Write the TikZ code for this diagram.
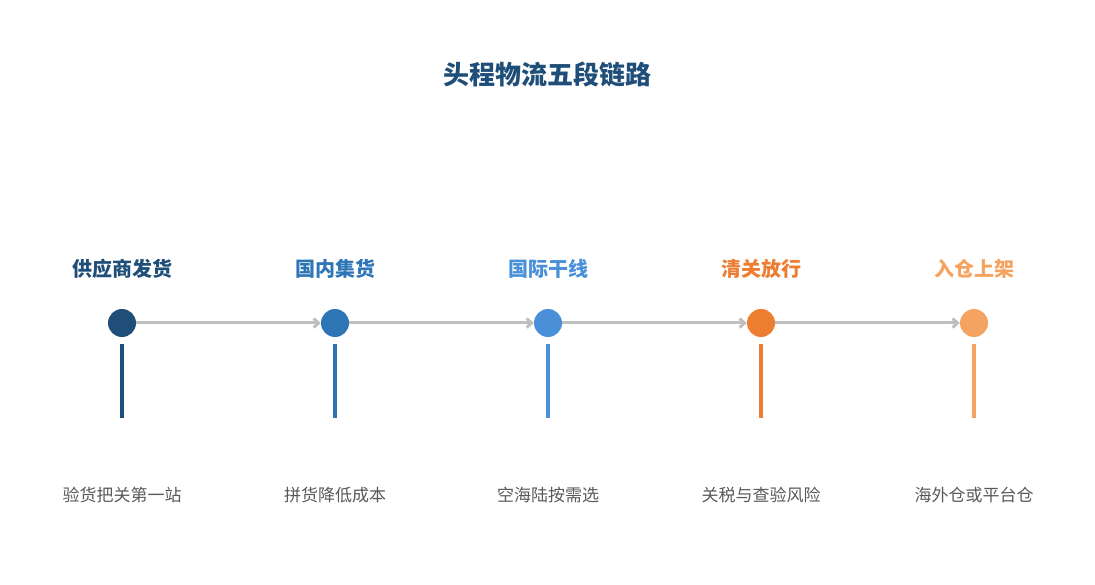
\documentclass[tikz,border=0pt]{standalone}
\usepackage{fontspec}
\setmainfont{Noto Sans CJK SC}
\usetikzlibrary{arrows.meta}
\definecolor{c1}{HTML}{1F4E79}
\definecolor{c2}{HTML}{2E75B6}
\definecolor{c3}{HTML}{4A90D9}
\definecolor{c4}{HTML}{ED7D31}
\definecolor{c5}{HTML}{F4A460}
\definecolor{gr}{HTML}{BFBFBF}
\definecolor{tx}{HTML}{595959}
\begin{document}
\begin{tikzpicture}[x=1pt,y=-1pt,
  dot/.style={circle,inner sep=0,minimum size=28pt,fill=#1},
  head/.style={font=\fontsize{20}{24}\selectfont\bfseries,text=#1},
  sub/.style={font=\fontsize{17}{20}\selectfont,text=tx},
  conn/.style={draw=gr,line width=3pt,-{Straight Barb[length=5pt,width=9pt]}},
  stem/.style={draw=#1,line width=4pt}]
\useasboundingbox (0,0) rectangle (1095,585);
\node[font=\fontsize{26}{30}\selectfont\bfseries,text=c1] (title) at (547,74) {头程物流五段链路};
\foreach \i/\x/\c/\h/\s in {1/122/c1/供应商发货/验货把关第一站,2/335/c2/国内集货/拼货降低成本,3/548/c3/国际干线/空海陆按需选,4/761/c4/清关放行/关税与查验风险,5/974/c5/入仓上架/海外仓或平台仓}{
  \node[dot=\c] (d\i) at (\x,323) {};
  \node[head=\c] (h\i) at (\x,269) {\h};
  \node[sub] (s\i) at (\x,495) {\s};
  \coordinate (a\i) at (\x,344);
  \coordinate (b\i) at (\x,418);
  \draw[stem=\c] (a\i) -- (b\i);
}
\foreach \i/\j in {1/2,2/3,3/4,4/5}{
  \draw[conn] (d\i) -- (d\j);
}
\end{tikzpicture}
\end{document}
